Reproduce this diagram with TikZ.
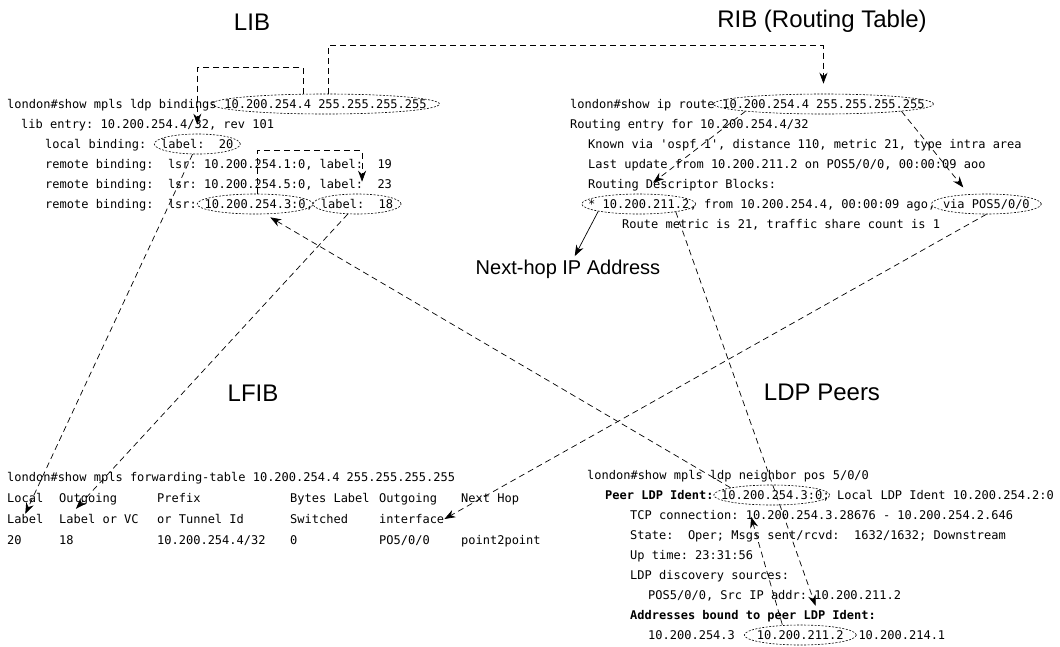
\documentclass[tikz,border=0pt]{standalone}
\usepackage{fontspec}
\setmainfont{Liberation Sans}
\setmonofont{DejaVu Sans Mono}
\usetikzlibrary{shapes.geometric,arrows.meta}
\newcommand{\codefont}{\ttfamily\fontsize{12}{14}\selectfont\frenchspacing}
\newlength{\chw}
\AtBeginDocument{\settowidth{\chw}{\codefont 0}}
\tikzset{
  code/.style={font=\codefont, anchor=base west, inner sep=0pt, text height=9pt, text depth=1pt},
  oval/.style={draw, ellipse, dash pattern=on 2pt off 1.5pt, line width=0.6pt, inner sep=0pt, minimum height=20pt, minimum width=#1},
  oval/.default=100pt,
  link/.style={line width=0.7pt, dash pattern=on 6pt off 4pt, -{Stealth[length=11pt,width=8pt]}},
  heading/.style={font=\fontsize{24}{28}\selectfont},
  hint/.style={font=\fontsize{20}{24}\selectfont}
}
\begin{document}
\begin{tikzpicture}[x=1pt,y=-1pt]
\useasboundingbox (0,0) rectangle (1060,646);
\node[heading] (libt) at (252,22) {LIB};
\node[heading] (ribt) at (822,21) {RIB (Routing Table)};
\node[heading] (lfibt) at (253,393) {LFIB};
\node[heading] (peert) at (822,392) {LDP Peers};
\node[hint] (nexthop) at (568,269) {Next-hop IP Address};

\node[code] (lib1a) at (7,108) {london\#show mpls ldp bindings};
\node[code] (lib1b) at ([xshift=\chw]lib1a.base east) {10.200.254.4 255.255.255.255};
\node[code] (lib2) at (21,128) {lib entry: 10.200.254.4/32, rev 101};
\node[code] (lib3a) at (45,148) {local binding:};
\node[code] (lib3b) at ([xshift=2\chw]lib3a.base east) {label:\ \ 20};
\node[code] (lib4) at (45,168) {remote binding:\ \ lsr: 10.200.254.1:0, label:\ \ 19};
\node[code] (lib5) at (45,188) {remote binding:\ \ lsr: 10.200.254.5:0, label:\ \ 23};
\node[code] (lib6a) at (45,208) {remote binding:\ \ lsr:};
\node[code] (lib6b) at ([xshift=\chw]lib6a.base east) {10.200.254.3:0};
\node[code] (lib6c) at (lib6b.base east) {,};
\node[code] (lib6d) at ([xshift=\chw]lib6c.base east) {label:\ \ 18};

\node[code] (rib1a) at (570,108) {london\#show ip route};
\node[code] (rib1b) at ([xshift=\chw]rib1a.base east) {10.200.254.4 255.255.255.255};
\node[code] (rib2) at (570,128) {Routing entry for 10.200.254.4/32};
\node[code] (rib3) at (588,148) {Known via 'ospf 1', distance 110, metric 21, type intra area};
\node[code] (rib4) at (588,168) {Last update from 10.200.211.2 on POS5/0/0, 00:00:09 aoo};
\node[code] (rib5) at (588,188) {Routing Descriptor Blocks:};
\node[code] (rib6a) at (588,208) {* 10.200.211.2};
\node[code] (rib6b) at (rib6a.base east) {, from 10.200.254.4, 00:00:09 ago,};
\node[code] (rib6c) at ([xshift=\chw]rib6b.base east) {via POS5/0/0};
\node[code] (rib7) at (622,228) {Route metric is 21, traffic share count is 1};

\node[code] (fib1) at (7,481) {london\#show mpls forwarding-table 10.200.254.4 255.255.255.255};
\node[code] (fibh1) at (7,502) {Local};
\node[code] (fibh2) at (59,502) {Outgoing};
\node[code] (fibh3) at (157,502) {Prefix};
\node[code] (fibh4) at (290,502) {Bytes Label};
\node[code] (fibh5) at (379,502) {Outgoing};
\node[code] (fibh6) at (461,502) {Next Hop};
\node[code] (fibl1) at (7,523) {Label};
\node[code] (fibl2) at (59,523) {Label or VC};
\node[code] (fibl3) at (157,523) {or Tunnel Id};
\node[code] (fibl4) at (290,523) {Switched};
\node[code] (fibl5) at (379,523) {interface};
\node[code] (fibv1) at (7,544) {20};
\node[code] (fibv2) at (59,544) {18};
\node[code] (fibv3) at (157,544) {10.200.254.4/32};
\node[code] (fibv4) at (290,544) {0};
\node[code] (fibv5) at (379,544) {PO5/0/0};
\node[code] (fibv6) at (461,544) {point2point};

\node[code] (peer1) at (587,479) {london\#show mpls ldp neighbor pos 5/0/0};
\node[code] (peer2a) at (605,499) {\bfseries Peer LDP Ident:};
\node[code] (peer2b) at ([xshift=\chw]peer2a.base east) {10.200.254.3:0};
\node[code] (peer2c) at (peer2b.base east) {; Local LDP Ident 10.200.254.2:0};
\node[code] (peer3) at (630,519) {TCP connection: 10.200.254.3.28676 - 10.200.254.2.646};
\node[code] (peer4) at (630,539) {State:\ \ Oper; Msgs sent/rcvd:\ \ 1632/1632; Downstream};
\node[code] (peer5) at (630,559) {Up time: 23:31:56};
\node[code] (peer6) at (630,579) {LDP discovery sources:};
\node[code] (peer7) at (648,599) {POS5/0/0, Src IP addr: 10.200.211.2};
\node[code] (peer8) at (630,619) {\bfseries Addresses bound to peer LDP Ident:};
\node[code] (peer9a) at (648,639) {10.200.254.3};
\node[code] (peer9b) at ([xshift=3\chw]peer9a.base east) {10.200.211.2};
\node[code] (peer9c) at ([xshift=2\chw]peer9b.base east) {10.200.214.1};

\node[oval=228pt] (libpfx) at (lib1b.center) {};
\node[oval=86pt] (lbl20) at (lib3b.center) {};
\node[oval=116pt] (lsr3) at (lib6b.center) {};
\node[oval=88pt] (lbl18) at (lib6d.center) {};
\node[oval=220pt] (ribpfx) at (rib1b.center) {};
\node[oval=114pt] (nhop) at (rib6a.center) {};
\node[oval=110pt] (via) at (rib6c.center) {};
\node[oval=116pt] (peerid) at (peer2b.center) {};
\node[oval=112pt] (addr) at (peer9b.center) {};

\draw[link, shorten >=10pt] ([xshift=3pt]libpfx.north) -- ++(0,-48) -| (ribpfx.north);
\draw[link, shorten >=9pt] ([xshift=-22pt]libpfx.north) -- ++(0,-26) -| (lbl20.north);
\draw[link, shorten >=12pt] ([xshift=2pt]lsr3.north) -- ++(0,-43) -| ([xshift=5pt]lbl18.north);
\draw[link] (lbl20) -- (fibl1.north);
\draw[link] (lbl18) -- ([xshift=-23pt,yshift=5pt]fibl2.north);
\draw[link, shorten >=6pt] (peerid.north west) -- ([xshift=10pt]lsr3.south);
\draw[link] (via.south) -- (fibl5.east);
\draw[link, shorten >=18pt] (ribpfx.south west) -- (nhop.north);
\draw[link, shorten >=8pt] (ribpfx.south east) -- ([xshift=-18pt]via.north);
\draw[line width=0.7pt, -{Stealth[length=11pt,width=8pt]}] (nhop.south west) -- (nexthop);
\draw[link, shorten >=20pt] (nhop.-12) -- ([xshift=22pt]addr.north);
\draw[link, shorten >=12pt] ([xshift=-18pt]addr.north) -- ([xshift=-24pt]peerid.south);
\end{tikzpicture}
\end{document}
